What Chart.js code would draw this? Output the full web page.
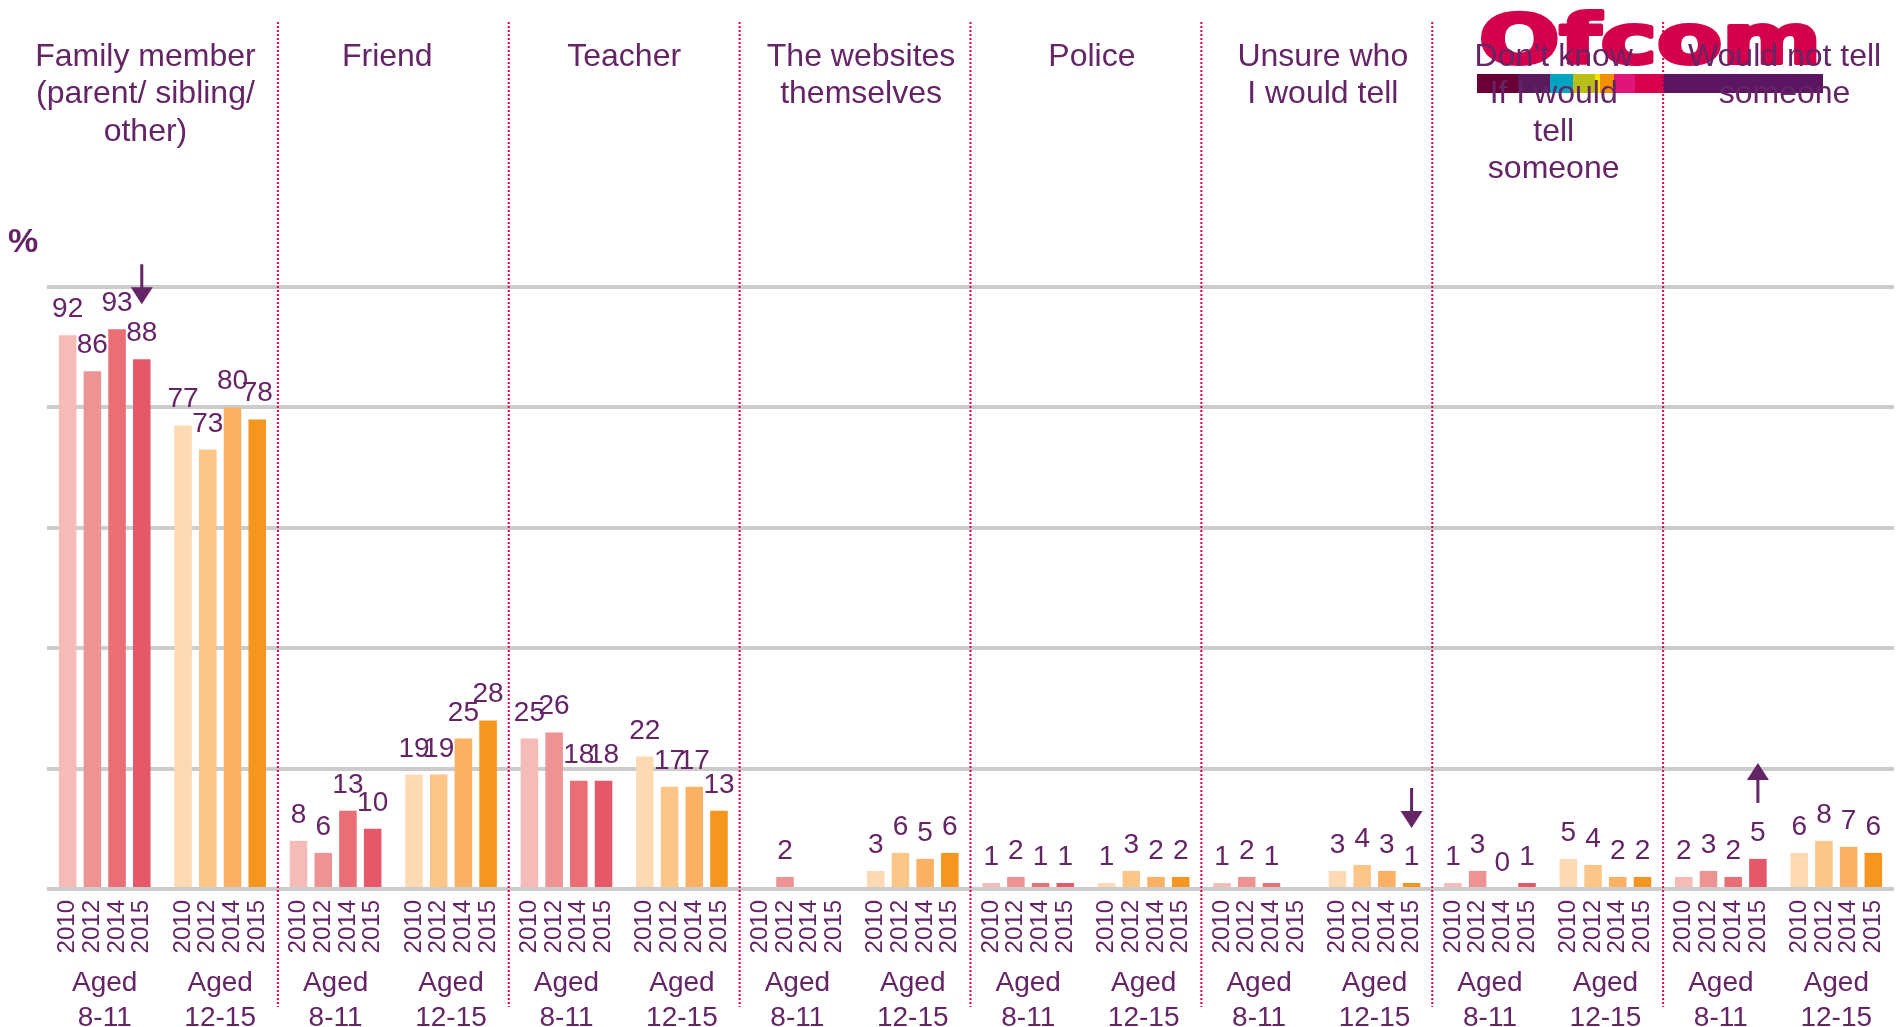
<!DOCTYPE html>
<html>
<head>
<meta charset="utf-8">
<script src="https://cdn.jsdelivr.net/npm/chart.js@4.4.0/dist/chart.umd.min.js"></script>
<style>
  html, body { margin: 0; padding: 0; background: #fff; overflow: hidden; }
  canvas { display: block; }
</style>
</head>
<body>
<canvas id="chart" width="1897" height="1027"></canvas>
<script>
const categories = [
  ['Family member', '(parent/ sibling/', 'other)'],
  ['Friend'],
  ['Teacher'],
  ['The websites', 'themselves'],
  ['Police'],
  ['Unsure who', 'I would tell'],
  ['Don\u2019t know', 'If I would', 'tell', 'someone'],
  ['Would not tell', 'someone']
];
const ageGroups = [['Aged', '8-11'], ['Aged', '12-15']];
const years = ['2010', '2012', '2014', '2015'];

// one value per slot: family 8-11, family 12-15, friend 8-11, friend 12-15 ...
const values2010 = [92, 77, 8, 19, 25, 22, null, 3, 1, 1, 1, 3, 1, 5, 2, 6];
const values2012 = [86, 73, 6, 19, 26, 17, 2, 6, 2, 3, 2, 4, 3, 4, 3, 8];
const values2014 = [93, 80, 13, 25, 18, 17, null, 5, 1, 2, 1, 3, 0, 2, 2, 7];
const values2015 = [88, 78, 10, 28, 18, 13, null, 6, 1, 2, null, 1, 1, 2, 5, 6];

// significant change arrows: [slot, year index, direction]
const arrows = [[0, 3, 'down'], [11, 3, 'down'], [14, 3, 'up']];

const youngColours = ['#f4bbb8', '#ed9393', '#e96e76', '#e5586a'];
const olderColours = ['#fedab4', '#fcc689', '#fbb163', '#f6961f'];
const purple = '#652466';
const FONT = '"Liberation Sans", Arial, sans-serif';

// small nudges so the titles sit where the slide had them
const titleNudge = [-17, -6, 0, 6, 6, 6, 6, 6];

let slots = [];
categories.forEach((c, i) => {
  ageGroups.forEach((a) => slots.push(c[0] + ' ' + a.join(' ')));
});

const allValues = [values2010, values2012, values2014, values2015];

let datasets = allValues.map((vals, yi) => {
  return {
    label: years[yi],
    data: vals,
    backgroundColor: slots.map((s, i) => i % 2 === 0 ? youngColours[yi] : olderColours[yi]),
    barPercentage: 0.71,
    categoryPercentage: 0.856
  };
});

const drawLogo = (ctx) => {
  ctx.save();
  ctx.font = 'bold 68px "DejaVu Sans", ' + FONT;
  let w = ctx.measureText('Ofcom').width;
  ctx.translate(1479, 63);
  ctx.scale(342 / w, 1);
  ctx.fillStyle = '#d5004b';
  ctx.strokeStyle = '#d5004b';
  ctx.lineWidth = 4;
  ctx.lineJoin = 'round';
  ctx.textBaseline = 'alphabetic';
  ctx.fillText('Ofcom', 0, 0);
  ctx.strokeText('Ofcom', 0, 0);
  ctx.restore();
  // colour stripe under the logo
  let stops = [1477, 1518, 1550, 1573, 1595, 1600, 1614, 1635, 1663, 1823];
  let cols = ['#6b0036', '#5a1a5e', '#00a3c0', '#b9be18', '#f5e400', '#f49000', '#e0157a', '#d8004c', '#5c1560'];
  for (let i = 0; i < cols.length; i++) {
    ctx.fillStyle = cols[i];
    ctx.fillRect(stops[i], 74, stops[i + 1] - stops[i], 19);
  }
};

const drawArrow = (ctx, x, tipY, dir) => {
  ctx.save();
  ctx.fillStyle = purple;
  ctx.strokeStyle = purple;
  ctx.lineWidth = 3;
  let s = dir === 'down' ? 1 : -1;
  ctx.beginPath();
  ctx.moveTo(x, tipY - s * 40);
  ctx.lineTo(x, tipY - s * 14);
  ctx.stroke();
  ctx.beginPath();
  ctx.moveTo(x - 11, tipY - s * 17);
  ctx.lineTo(x + 11, tipY - s * 17);
  ctx.lineTo(x, tipY);
  ctx.closePath();
  ctx.fill();
  ctx.restore();
};

const overlay = {
  id: 'overlay',
  beforeDraw(chart) {
    drawLogo(chart.ctx);
  },
  afterDraw(chart) {
    const ctx = chart.ctx;
    const xs = chart.scales.x;
    const area = chart.chartArea;
    ctx.save();

    // dotted separators between categories
    ctx.strokeStyle = '#dc004f';
    ctx.lineWidth = 2;
    ctx.setLineDash([2, 2]);
    for (let k = 1; k < categories.length; k++) {
      let bx = (xs.getPixelForValue(2 * k - 1) + xs.getPixelForValue(2 * k)) / 2;
      ctx.beginPath();
      ctx.moveTo(bx, 22);
      ctx.lineTo(bx, 1007);
      ctx.stroke();
    }
    ctx.setLineDash([]);

    // category titles
    ctx.fillStyle = purple;
    ctx.textAlign = 'center';
    ctx.textBaseline = 'middle';
    ctx.font = '32px ' + FONT;
    categories.forEach((lines, k) => {
      let cx = (xs.getPixelForValue(2 * k) + xs.getPixelForValue(2 * k + 1)) / 2;
      cx += titleNudge[k];
      lines.forEach((t, li) => ctx.fillText(t, cx, 57 + li * 37.5));
    });

    // % sign
    ctx.font = 'bold 34px ' + FONT;
    ctx.textAlign = 'left';
    ctx.fillText('%', 8, 243);

    // age group labels
    ctx.font = '28px ' + FONT;
    ctx.textAlign = 'center';
    slots.forEach((s, i) => {
      let ax = xs.getPixelForValue(i);
      let lines = ageGroups[i % 2];
      ctx.fillText(lines[0], ax, 983);
      ctx.fillText(lines[1], ax, 1018);
    });

    // value labels and year labels
    chart.data.datasets.forEach((ds, yi) => {
      let meta = chart.getDatasetMeta(yi);
      meta.data.forEach((bar, i) => {
        ctx.fillStyle = purple;
        ctx.font = '24px ' + FONT;
        ctx.save();
        ctx.translate(bar.x, area.bottom + 11);
        ctx.rotate(-Math.PI / 2);
        ctx.textAlign = 'right';
        ctx.textBaseline = 'middle';
        ctx.fillText(years[yi], 0, 0);
        ctx.restore();

        let v = ds.data[i];
        if (v === null) return;
        ctx.font = '28px ' + FONT;
        ctx.textAlign = 'center';
        ctx.textBaseline = 'alphabetic';
        ctx.fillText(String(v), bar.x, bar.y - 18);
      });
    });

    // arrows
    arrows.forEach(([slot, yi, dir]) => {
      let bar = chart.getDatasetMeta(yi).data[slot];
      let labelY = bar.y - 18;
      if (dir === 'down') {
        drawArrow(ctx, bar.x, labelY - 37, 'down');
      } else {
        drawArrow(ctx, bar.x, labelY - 78, 'up');
      }
    });

    ctx.restore();
  }
};

const ctx = document.getElementById('chart').getContext('2d');
const chart = new Chart(ctx, {
  type: 'bar',
  data: {
    labels: slots,
    datasets: datasets
  },
  options: {
    responsive: false,
    devicePixelRatio: 1,
    animation: false,
    layout: {
      padding: { top: 287, bottom: 130, left: 47, right: 3 }
    },
    plugins: {
      legend: { display: false },
      tooltip: { enabled: false }
    },
    scales: {
      x: {
        ticks: { display: false },
        grid: { display: false },
        border: { display: false }
      },
      y: {
        min: 0,
        max: 100,
        ticks: { display: false, stepSize: 20 },
        grid: { color: '#cccccc', lineWidth: 4, drawTicks: false },
        border: { display: false }
      }
    }
  },
  plugins: [overlay]
});
</script>
</body>
</html>
